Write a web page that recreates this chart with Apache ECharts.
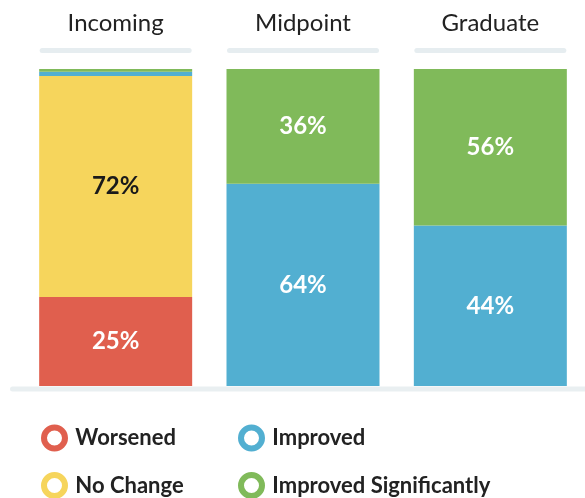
<!DOCTYPE html>
<html>
<head>
<meta charset="utf-8">
<script src="https://cdn.jsdelivr.net/npm/echarts@6/dist/echarts.min.js"></script>
<style>
    html, body { margin: 0; padding: 0; background: #fff; }
    #main { width: 585px; height: 498px; }
</style>
</head>
<body>
<div id="main"></div>
<script>
    // stages and shares
    var stages = ['Incoming', 'Midpoint', 'Graduate'];
    var worsened = [28.1, 0, 0];
    var noChange = [69.7, 0, 0];
    var improved = [1.3, 63.8, 50.6];
    var improvedSig = [0.9, 36.2, 49.4];

    // printed labels as shown in the picture
    var worsenedLabels = ['25%', '', ''];
    var noChangeLabels = ['72%', '', ''];
    var improvedLabels = ['', '64%', '44%'];
    var improvedSigLabels = ['', '36%', '56%'];

    var colors = {
        'Worsened': '#e05f4e',
        'No Change': '#f6d55c',
        'Improved': '#52afd1',
        'Improved Significantly': '#80ba5a'
    };
    var font = 'Lato';

    function barSeries(name, data, labels, textColor) {
        return {
            name: name,
            type: 'bar',
            stack: 'all',
            barWidth: 153,
            data: data,
            itemStyle: {color: colors[name]},
            label: {
                show: true,
                position: 'inside',
                fontFamily: font,
                fontWeight: 'bold',
                fontSize: 24,
                color: textColor,
                formatter: function (p) { return labels[p.dataIndex]; }
            }
        };
    }

    // one legend per entry so the two columns line up
    function legendItem(name, left, top) {
        return {
            left: left,
            top: top,
            padding: 0,
            icon: 'circle',
            itemWidth: 21,
            itemHeight: 21,
            selectedMode: false,
            data: [{
                name: name,
                itemStyle: {color: '#fff', borderColor: colors[name], borderWidth: 6}
            }],
            textStyle: {
                fontFamily: font,
                fontWeight: 'bold',
                fontSize: 22,
                color: '#222'
            },
            formatter: function (n) { return ' ' + n; }
        };
    }

    var myChart = echarts.init(document.getElementById('main'));
    myChart.setOption({
        animation: false,
        grid: {left: 22, right: 1, top: 69, bottom: 112},
        xAxis: {
            type: 'category',
            position: 'top',
            data: stages,
            axisLine: {show: false},
            axisTick: {show: false},
            axisLabel: {
                margin: 34,
                fontFamily: font,
                fontSize: 24,
                color: '#222'
            }
        },
        yAxis: {type: 'value', min: 0, max: 100, show: false},
        legend: [
            legendItem('Worsened', 41, 424.5),
            legendItem('No Change', 41, 472),
            legendItem('Improved', 238, 424.5),
            legendItem('Improved Significantly', 238, 472)
        ],
        graphic: [{
            type: 'rect',
            shape: {x: 10, y: 386.5, width: 580, height: 5, r: 2.5},
            style: {fill: '#e9eff1'},
            z: -1
        }],
        series: [
            barSeries('Worsened', worsened, worsenedLabels, '#fff'),
            barSeries('No Change', noChange, noChangeLabels, '#1a1a1a'),
            barSeries('Improved', improved, improvedLabels, '#fff'),
            barSeries('Improved Significantly', improvedSig, improvedSigLabels, '#fff'),
            {
                // light underline below each stage title
                type: 'custom',
                silent: true,
                clip: false,
                data: stages.map(function (s, i) { return [i, 0]; }),
                renderItem: function (params, api) {
                    var x = api.coord([api.value(0), 0])[0];
                    return {
                        type: 'rect',
                        shape: {x: x - 76, y: 48, width: 152, height: 5, r: 2.5},
                        style: {fill: '#e6edf0'}
                    };
                }
            }
        ]
    });
</script>
</body>
</html>
